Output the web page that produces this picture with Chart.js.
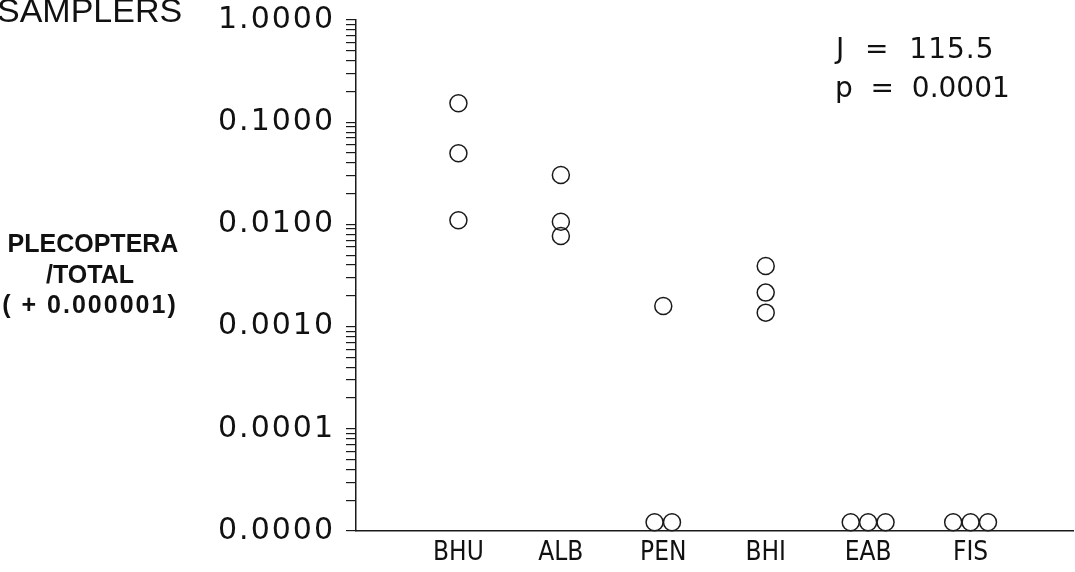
<!DOCTYPE html>
<html>
<head>
<meta charset="utf-8">
<script src="https://cdn.jsdelivr.net/npm/chart.js@4.4.0/dist/chart.umd.min.js"></script>
<style>
  html, body { margin: 0; padding: 0; background: #fff; }
  #wrap { width: 1075px; height: 572px; position: relative; }
</style>
</head>
<body>
<div id="wrap"><canvas id="chart"></canvas></div>
<script>
// ----------- Dane -----------
const categories = ['BHU', 'ALB', 'PEN', 'BHI', 'EAB', 'FIS'];
const bhu = [0.153, 0.0497, 0.0110];
const alb = [0.0304, 0.0106, 0.0077];
const pen = [0.00159, 0.0000122, 0.0000122];
const bhi = [0.00392, 0.00215, 0.00137];
const eab = [0.0000122, 0.0000122, 0.0000122];
const fis = [0.0000122, 0.0000122, 0.0000122];
const decades = [0.00001, 0.0001, 0.001, 0.01, 0.1, 1];

const title = 'SAMPLERS';
const yTitle = ['PLECOPTERA', '/TOTAL', '( + 0.000001)'];
const stats = ['J  =  115.5', 'p  =  0.0001'];

// ties are drawn side by side, like the original plot
const spread = 0.17;
function points(vals, i) {
    return vals.map((v, k) => {
        const n = vals.filter(u => u === v).length;
        const idx = vals.slice(0, k).filter(u => u === v).length;
        const off = n > 1 ? (idx - (n - 1) / 2) * spread : 0;
        return { x: i + off, y: v };
    });
}
const groups = [bhu, alb, pen, bhi, eab, fis];
const allPoints = groups.flatMap((g, i) => points(g, i));

function isDecade(v) {
    const l = Math.log10(v);
    return Math.abs(l - Math.round(l)) < 1e-9;
}

// wider spacing for the y labels
const ySpacing = {
    id: 'ySpacing',
    beforeDraw(chart) {
        const s = chart.scales.y;
        if (!s || s._spaced) return;
        const orig = s.drawLabels.bind(s);
        s.drawLabels = function (area) {
            chart.ctx.save();
            chart.ctx.letterSpacing = '2px';
            orig(area);
            chart.ctx.restore();
        };
        s._spaced = true;
    }
};

const notes = {
    id: 'notes',
    afterDraw(chart) {
        const ctx = chart.ctx;
        ctx.save();
        ctx.fillStyle = '#111';
        ctx.textBaseline = 'alphabetic';

        ctx.textAlign = 'left';
        ctx.font = '34px "Liberation Sans", Arial, sans-serif';
        ctx.fillText(title, -3, 22);

        ctx.textAlign = 'center';
        ctx.font = 'bold 25px "Liberation Sans", Arial, sans-serif';
        ctx.fillText(yTitle[0], 93, 252);
        ctx.fillText(yTitle[1], 90, 283);
        ctx.letterSpacing = '2px';
        ctx.fillText(yTitle[2], 90, 313);
        ctx.letterSpacing = '0px';

        ctx.textAlign = 'left';
        ctx.font = '28px "DejaVu Sans", sans-serif';
        ctx.letterSpacing = '1px';
        ctx.fillText(stats[0], 836, 58);
        ctx.letterSpacing = '0px';
        ctx.fillText(stats[1], 835, 97);
        ctx.restore();
    }
};

new Chart(document.getElementById('chart'), {
    type: 'scatter',
    data: {
        datasets: [{
            data: allPoints,
            pointRadius: 8.5,
            pointHoverRadius: 8.5,
            pointBorderWidth: 1.5,
            borderColor: '#1a1a1a',
            backgroundColor: 'rgba(0,0,0,0)',
            clip: false
        }]
    },
    options: {
        responsive: true,
        maintainAspectRatio: false,
        animation: false,
        layout: { autoPadding: false, padding: { top: 20, right: 2, left: 0, bottom: 0 } },
        plugins: { legend: { display: false }, tooltip: { enabled: false } },
        scales: {
            x: {
                type: 'linear',
                min: -1,
                max: 6,
                afterBuildTicks: (s) => { s.ticks = categories.map((c, i) => ({ value: i })); },
                afterFit: (s) => { s.height = 41; s.paddingLeft = 0; s.paddingRight = 0; },
                grid: { display: false, drawTicks: false },
                border: { display: true, color: '#1a1a1a', width: 1.5 },
                ticks: {
                    autoSkip: false,
                    maxRotation: 0,
                    padding: 7,
                    color: '#111',
                    font: { family: '"DejaVu Sans Condensed", "Liberation Sans Narrow", sans-serif', size: 26 },
                    callback: (v) => categories[v] ?? ''
                }
            },
            y: {
                type: 'logarithmic',
                min: decades[0],
                max: decades[decades.length - 1],
                afterBuildTicks: (s) => {
                    const t = [];
                    decades.forEach((d, i) => {
                        t.push({ value: d });
                        if (i < decades.length - 1) {
                            for (let m = 2; m <= 9; m++) t.push({ value: d * m });
                        }
                    });
                    s.ticks = t;
                },
                afterFit: (s) => { s.width = 356; s.paddingTop = 0; s.paddingBottom = 0; },
                grid: { drawOnChartArea: false, drawTicks: true, tickLength: 10, color: '#1a1a1a', lineWidth: 1.2 },
                border: { display: true, color: '#1a1a1a', width: 1.5 },
                ticks: {
                    autoSkip: false,
                    padding: 11,
                    color: '#111',
                    font: { family: '"DejaVu Sans", sans-serif', size: 30 },
                    callback: (v) => isDecade(v) ? Number(v).toFixed(4) : ''
                }
            }
        }
    },
    plugins: [ySpacing, notes]
});
</script>
</body>
</html>
